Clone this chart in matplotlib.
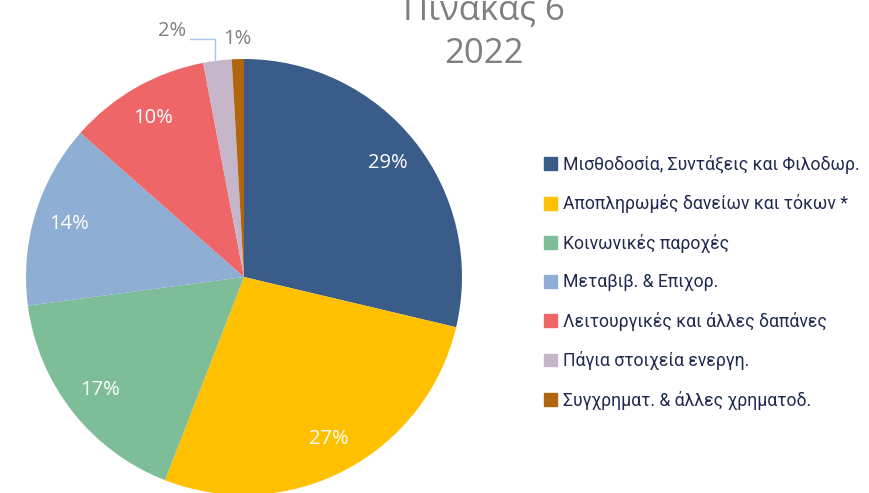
import matplotlib.pyplot as plt
import numpy as np

plt.rcParams['font.family'] = ['Open Sans', 'DejaVu Sans']

categories = ['Μισθοδοσία, Συντάξεις και Φιλοδωρ.',
              'Αποπληρωμές δανείων και τόκων *',
              'Κοινωνικές παροχές',
              'Μεταβιβ. & Επιχορ.',
              'Λειτουργικές και άλλες δαπάνες',
              'Πάγια στοιχεία ενεργη.',
              'Συγχρηματ. & άλλες χρηματοδ.']
shares = [28.7, 27.2, 17.0, 13.6, 10.5, 2.1, 0.9]
pct_labels = ['29%', '27%', '17%', '14%', '10%', '2%', '1%']
colors = ['#3A5C88', '#FFC000', '#7DBE98', '#8FAED4', '#EF6669', '#C5B6C9', '#B0660F']

W, H = 869, 493
fig = plt.figure(figsize=(W / 100, H / 100), dpi=100)
cx, cy, R = 244, 493 - 277, 218
ax = fig.add_axes([(cx - R) / W, (cy - R) / H, 2 * R / W, 2 * R / H])

wedges, _ = ax.pie(shares, colors=colors, startangle=90, counterclock=False,
                   radius=1, wedgeprops=dict(linewidth=0))
ax.set_xlim(-1, 1)
ax.set_ylim(-1, 1)
ax.set_aspect('equal')
ax.axis('off')

for i, w in enumerate(wedges):
    mid = np.deg2rad((w.theta1 + w.theta2) / 2)
    if i < 5:
        ax.text(0.84 * np.cos(mid), 0.84 * np.sin(mid), pct_labels[i],
                ha='center', va='center', color='white', fontsize=14.5)
    elif i == 6:
        ax.text(1.09 * np.cos(mid), 1.09 * np.sin(mid), pct_labels[i],
                ha='center', va='center', color='#7F7F7F', fontsize=14.5)
    else:
        ex, ey = np.cos(mid), np.sin(mid)
        lx, ly = 1.16 * np.cos(mid + 0.11), 1.16 * np.sin(mid + 0.11)
        ax.text(lx, ly, pct_labels[i], ha='right', va='center',
                color='#7F7F7F', fontsize=14.5, clip_on=False)
        ax.plot([lx + 0.02, ex - 0.01, ex - 0.01], [ly - 0.035, ly - 0.035, ey],
                color='#A9C4EB', lw=1, clip_on=False)

fig.text(484 / W, 1 - 10 / H, 'Πίνακας 6', ha='center', va='center',
         fontsize=25, color='#7F7F7F')
fig.text(484 / W, 1 - 54 / H, '2022', ha='center', va='center',
         fontsize=25, color='#7F7F7F')

handles = [plt.Rectangle((0, 0), 1, 1, color=c) for c in colors]
fig.legend(handles, categories, loc='upper left',
           bbox_to_anchor=(528 / W, 1 - 139 / H), frameon=False,
           prop={'family': ['Roboto', 'DejaVu Sans'], 'size': 12.7},
           labelcolor='#1F2A50', handlelength=0.75,
           handleheight=0.75, handletextpad=0.35, labelspacing=1.16)

fig.savefig('out.png', dpi=100)
